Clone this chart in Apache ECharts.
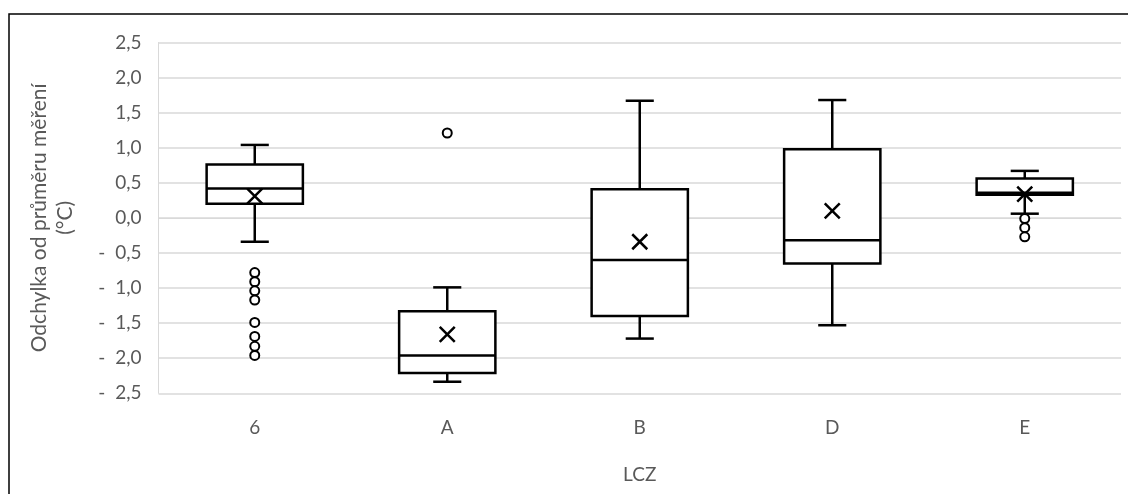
<!DOCTYPE html>
<html>
<head>
<meta charset="utf-8">
<script src="https://cdn.jsdelivr.net/npm/echarts@6/dist/echarts.min.js"></script>
<style>
  html, body { margin: 0; padding: 0; background: #fff; }
  #chart { width: 1128px; height: 494px; }
</style>
</head>
<body>
<div id="chart"></div>
<script>
const categories = ['6', 'A', 'B', 'D', 'E']
const whiskerLow = [-0.34, -2.335, -1.72, -1.53, 0.06]
const q1 = [0.20, -2.21, -1.40, -0.65, 0.33]
const median = [0.42, -1.96, -0.60, -0.32, 0.36]
const q3 = [0.76, -1.33, 0.41, 0.98, 0.56]
const whiskerHigh = [1.04, -0.99, 1.67, 1.68, 0.67]
const means = [0.31, -1.66, -0.34, 0.10, 0.34]
const outliers = {
  '6': [-0.78, -0.91, -1.04, -1.17, -1.49, -1.69, -1.83, -1.96],
  'A': [1.21],
  'E': [-0.01, -0.14, -0.27],
}

const textColor = '#595959'
const font = 'Lato, "Noto Sans", sans-serif'

const boxData = categories.map((c, i) => [i, whiskerLow[i], q1[i], median[i], q3[i], whiskerHigh[i]])
const meanData = categories.map((c, i) => [i, means[i]])
const outlierData = []
categories.forEach((c, i) => {
  (outliers[c] || []).forEach(v => outlierData.push([i, v]))
})

function fmt(v) {
  const s = Math.abs(v).toFixed(1).replace('.', ',')
  return v < -1e-9 ? '-  ' + s : s
}

function renderBox(params, api) {
  const idx = api.value(0)
  const pLow = api.coord([idx, api.value(1)])
  const pQ1 = api.coord([idx, api.value(2)])
  const pMed = api.coord([idx, api.value(3)])
  const pQ3 = api.coord([idx, api.value(4)])
  const pHigh = api.coord([idx, api.value(5)])
  const band = api.size([1, 0])[0]
  const half = band * 0.25
  const cap = band * 0.073
  const cx = pMed[0]
  const st = { stroke: '#000', lineWidth: 2.5, fill: null }
  return {
    type: 'group',
    children: [
      { type: 'line', shape: { x1: cx, y1: pQ3[1], x2: cx, y2: pHigh[1] }, style: st },
      { type: 'line', shape: { x1: cx - cap, y1: pHigh[1], x2: cx + cap, y2: pHigh[1] }, style: st },
      { type: 'line', shape: { x1: cx, y1: pQ1[1], x2: cx, y2: pLow[1] }, style: st },
      { type: 'line', shape: { x1: cx - cap, y1: pLow[1], x2: cx + cap, y2: pLow[1] }, style: st },
      { type: 'rect', shape: { x: cx - half, y: pQ3[1], width: half * 2, height: pQ1[1] - pQ3[1] },
        style: { stroke: '#000', lineWidth: 2.5, fill: '#fff' } },
      { type: 'line', shape: { x1: cx - half, y1: pMed[1], x2: cx + half, y2: pMed[1] }, style: st },
    ],
  }
}

const chart = echarts.init(document.getElementById('chart'))
chart.setOption({
  backgroundColor: '#fff',
  animation: false,
  textStyle: { fontFamily: font },
  graphic: [{
    type: 'rect',
    shape: { x: 9, y: 14, width: 1200, height: 600 },
    style: { fill: null, stroke: '#000', lineWidth: 1.5 },
    z: 100,
  }],
  grid: { left: 158.5, right: 7, top: 42.5, bottom: 100.7 },
  xAxis: {
    type: 'category',
    data: categories,
    name: 'LCZ',
    nameLocation: 'middle',
    nameGap: 72,
    nameTextStyle: { color: textColor, fontSize: 19, fontFamily: font },
    axisLine: { lineStyle: { color: '#d9d9d9', width: 1 } },
    axisTick: { show: false },
    axisLabel: { color: textColor, fontSize: 19, margin: 25, fontFamily: font },
  },
  yAxis: {
    type: 'value',
    min: -2.5,
    max: 2.5,
    interval: 0.5,
    name: 'Odchylka od průměru měření\n(°C)',
    nameLocation: 'middle',
    nameRotate: 90,
    nameGap: 80,
    nameTextStyle: { color: textColor, fontSize: 21, lineHeight: 26, fontFamily: font },
    axisLine: { show: true, lineStyle: { color: '#d9d9d9', width: 1 } },
    axisTick: { show: false },
    axisLabel: { color: textColor, fontSize: 19, margin: 17, formatter: fmt, fontFamily: font },
    splitLine: { lineStyle: { color: '#d9d9d9', width: 1.5 } },
  },
  series: [
    {
      type: 'custom',
      renderItem: renderBox,
      encode: { x: 0, y: [1, 2, 3, 4, 5] },
      data: boxData,
      z: 2,
    },
    {
      type: 'scatter',
      data: meanData,
      symbol: 'path://M0,0L10,10M10,0L0,10',
      symbolSize: 15,
      itemStyle: { color: 'none', borderColor: '#000', borderWidth: 2.5, opacity: 1 },
      z: 3,
    },
    {
      type: 'scatter',
      data: outlierData,
      symbol: 'circle',
      symbolSize: 9,
      itemStyle: { color: '#fff', borderColor: '#000', borderWidth: 2, opacity: 1 },
      z: 3,
    },
  ],
})
</script>
</body>
</html>
